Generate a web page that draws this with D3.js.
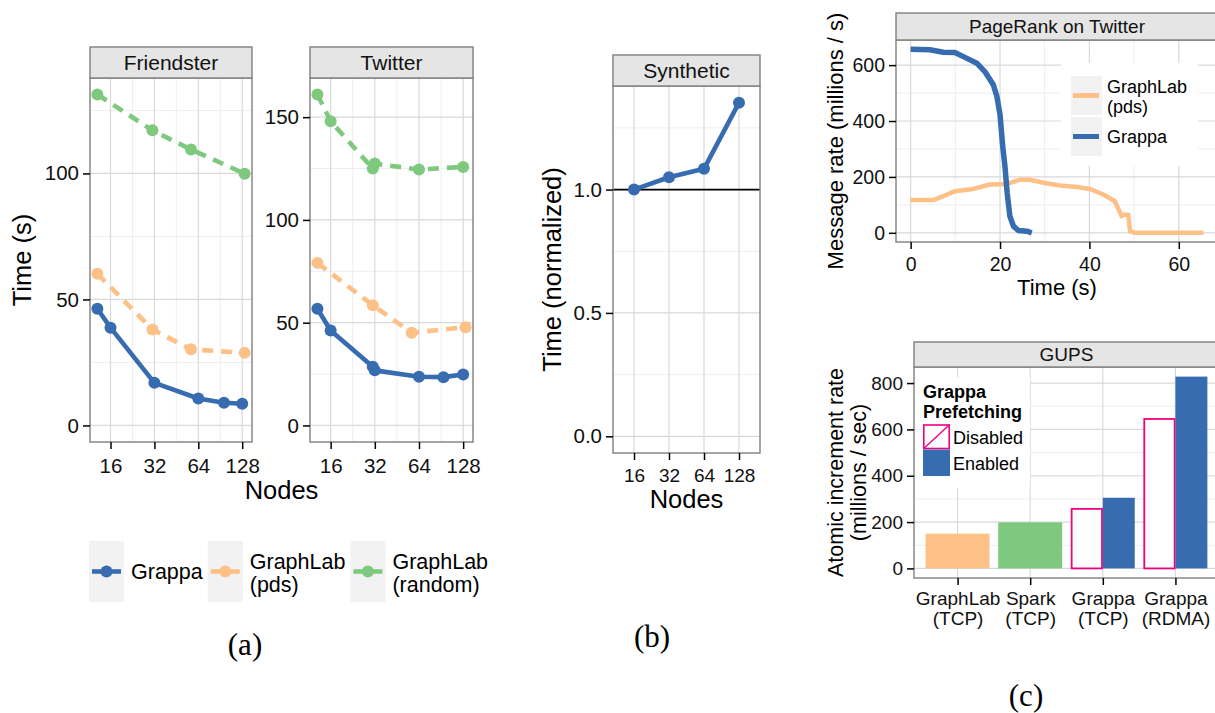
<!DOCTYPE html>
<html>
<head>
<meta charset="utf-8">
<script src="https://cdn.jsdelivr.net/npm/d3@7"></script>
<style>
    body { margin: 0; background: #fff; }
    svg { display: block; }
</style>
</head>
<body>
<div id="chart"></div>
<script>
//Colores (paleta Accent de ColorBrewer)
const COLOR_GRAPPA = '#386cb0',
    COLOR_PDS = '#fdc086',
    COLOR_RANDOM = '#7fc97f',
    COLOR_DISABLED = '#f0027f';
const GRID_MAJOR = '#d9d9d9',
    GRID_MINOR = '#eeeeee',
    BORDER = '#7f7f7f',
    STRIP = '#e5e5e5',
    KEY_BG = '#f2f2f2';
const FONT = "'Liberation Sans', Arial, Helvetica, sans-serif";
const SERIF = "'Liberation Serif', 'Times New Roman', serif";

//Datos (a) - Friendster
const friendsterGrappaNodes = [13, 16, 32, 64, 96, 128];
const friendsterGrappaTime = [46.3, 38.8, 16.9, 10.7, 9.0, 8.6];
const friendsterPdsNodes = [13, 31, 57, 133];
const friendsterPdsTime = [60.2, 38.1, 30.2, 28.8];
const friendsterRandomNodes = [13, 31, 57, 133];
const friendsterRandomTime = [131.3, 117.1, 109.5, 99.9];

//Datos (a) - Twitter
const twitterGrappaNodes = [13, 16, 31, 32, 64, 94, 128];
const twitterGrappaTime = [56.8, 46.2, 28.6, 26.8, 23.7, 23.5, 24.8];
const twitterPdsNodes = [13, 31, 57, 133];
const twitterPdsTime = [79.1, 58.5, 45.1, 47.8];
const twitterRandomNodes = [13, 16, 31, 32, 64, 128];
const twitterRandomTime = [161, 148, 125, 127.4, 124.5, 125.8];

//Datos (b) - Synthetic
const syntheticNodes = ['16', '32', '64', '128'];
const syntheticTime = [1.0, 1.05, 1.084, 1.352];

//Datos (c) - PageRank on Twitter
const pagerankGrappaTime = [0, 4.3, 7.3, 9.9, 12.5, 14.8, 16.6, 18.5, 19.3, 20, 20.6, 21.1, 21.6, 22.2, 23, 24.1, 26, 27.1];
const pagerankGrappaRate = [657, 655, 646, 645, 625, 607, 577, 530, 488, 423, 310, 238, 143, 60, 24, 8, 6, 0];
const pagerankPdsTime = [0, 5.1, 7.3, 9.9, 14, 17.8, 21.5, 24.5, 26.7, 29.7, 33.4, 37.2, 40.1, 43.1, 45.7, 47.2, 47.9, 48.7, 49.1, 50.2, 65.5];
const pagerankPdsRate = [117, 117, 131, 149, 157, 173, 175, 190, 190, 179, 169, 164, 157, 137, 113, 60, 65, 65, 6, 0, 0];

//Datos (c) - GUPS
const gupsSystems = ['GraphLab (TCP)', 'Spark (TCP)', 'Grappa (TCP)', 'Grappa (RDMA)'];
const gupsLabels = [['GraphLab', '(TCP)'], ['Spark', '(TCP)'], ['Grappa', '(TCP)'], ['Grappa', '(RDMA)']];
const gupsSingle = [150, 199, null, null];
const gupsPrefetchOff = [null, null, 257, 645];
const gupsPrefetchOn = [null, null, 305, 828];

//Ticks
const nodeTicks = [16, 32, 64, 128];
const friendsterTicks = [0, 50, 100];
const twitterTicks = [0, 50, 100, 150];
const syntheticTicks = [0, 0.5, 1.0];
const pagerankXTicks = [0, 20, 40, 60];
const pagerankYTicks = [0, 200, 400, 600];
const gupsTicks = [0, 200, 400, 600, 800];

const TICK = 7;

let svg = d3.select('#chart')
    .append('svg')
    .attr('width', 1215)
    .attr('height', 713)
    .attr('font-family', FONT);

svg.append('rect').attr('width', 1215).attr('height', 713).attr('fill', '#fff');

//Expansión tipo ggplot (5% por lado, incluyendo el cero)
function expandLinear(maxValue) {
    let r = maxValue;
    return [-0.05 * r, maxValue + 0.05 * r];
}

function midpoints(ticks, geometric) {
    let out = [];
    for (let i = 0; i < ticks.length - 1; i++) {
        out.push(geometric ? Math.sqrt(ticks[i] * ticks[i + 1]) : (ticks[i] + ticks[i + 1]) / 2);
    }
    return out;
}

function drawPanel(p) {
    let g = svg.append('g').attr('class', 'panel');

    g.append('rect')
        .attr('x', p.x0).attr('y', p.top)
        .attr('width', p.x1 - p.x0).attr('height', p.bottom - p.top)
        .attr('fill', '#fff');

    //Rejilla menor
    g.selectAll('.vminor').data(p.xMinor || []).enter().append('line')
        .attr('x1', d => p.x(d)).attr('x2', d => p.x(d))
        .attr('y1', p.top).attr('y2', p.bottom)
        .attr('stroke', GRID_MINOR).attr('stroke-width', 1);
    g.selectAll('.hminor').data(p.yMinor || []).enter().append('line')
        .attr('x1', p.x0).attr('x2', p.x1)
        .attr('y1', d => p.y(d)).attr('y2', d => p.y(d))
        .attr('stroke', GRID_MINOR).attr('stroke-width', 1);

    //Rejilla mayor
    g.selectAll('.vmajor').data(p.xTicks).enter().append('line')
        .attr('x1', d => p.x(d)).attr('x2', d => p.x(d))
        .attr('y1', p.top).attr('y2', p.bottom)
        .attr('stroke', GRID_MAJOR).attr('stroke-width', 1.2);
    g.selectAll('.hmajor').data(p.yTicks).enter().append('line')
        .attr('x1', p.x0).attr('x2', p.x1)
        .attr('y1', d => p.y(d)).attr('y2', d => p.y(d))
        .attr('stroke', GRID_MAJOR).attr('stroke-width', 1.2);

    return g;
}

function finishPanel(p) {
    //Borde del panel
    svg.append('rect')
        .attr('x', p.x0).attr('y', p.top)
        .attr('width', p.x1 - p.x0).attr('height', p.bottom - p.top)
        .attr('fill', 'none').attr('stroke', BORDER).attr('stroke-width', 1.4);

    //Strip con el título
    svg.append('rect')
        .attr('x', p.x0).attr('y', p.stripTop)
        .attr('width', p.x1 - p.x0).attr('height', p.top - p.stripTop)
        .attr('fill', STRIP).attr('stroke', BORDER).attr('stroke-width', 1.4);
    svg.append('text')
        .attr('x', (p.x0 + p.x1) / 2)
        .attr('y', (p.stripTop + p.top) / 2 + p.stripSize * 0.36)
        .attr('text-anchor', 'middle')
        .attr('font-size', p.stripSize)
        .attr('fill', '#111')
        .text(p.title);

    //Eje y
    svg.append('g')
        .attr('transform', 'translate(' + p.x0 + ',0)')
        .call(d3.axisLeft(p.y).tickValues(p.yTicks).tickFormat(p.yFormat || d3.format('d')).tickSize(TICK).tickPadding(4))
        .attr('font-family', FONT)
        .attr('font-size', p.tickSize)
        .call(g => g.select('.domain').remove())
        .call(g => g.selectAll('.tick line').attr('stroke', '#000').attr('stroke-width', 1.5))
        .call(g => g.selectAll('.tick text').attr('fill', '#111'));

    //Eje x
    let xAxis = svg.append('g')
        .attr('transform', 'translate(0,' + p.bottom + ')')
        .call(d3.axisBottom(p.x).tickValues(p.xTicks).tickFormat(p.xFormat || d3.format('d')).tickSize(TICK).tickPadding(p.xPadding || 9))
        .attr('font-family', FONT)
        .attr('font-size', p.xTickSize || p.tickSize)
        .call(g => g.select('.domain').remove())
        .call(g => g.selectAll('.tick line').attr('stroke', '#000').attr('stroke-width', 1.5))
        .call(g => g.selectAll('.tick text').attr('fill', '#111'));

    if (p.xLines) {
        xAxis.selectAll('.tick text').each(function(d, i) {
            let t = d3.select(this).attr('dy', null).text(null);
            p.xLines(d, i).forEach(function(l, j) {
                t.append('tspan').attr('x', 0).attr('dy', j ? '1.03em' : '0.71em').text(l);
            });
        });
    }
}

function drawLines(g, p, series) {
    series.forEach(function(s) {
        let data = s.nodes.map((n, i) => ({n: n, v: s.values[i]}));
        g.append('path')
            .datum(data)
            .attr('d', d3.line().x(d => p.x(d.n)).y(d => p.y(d.v)))
            .attr('fill', 'none')
            .attr('stroke', s.color)
            .attr('stroke-width', 4.6)
            .attr('stroke-linejoin', 'round')
            .attr('stroke-dasharray', s.dashed ? '11,8' : null);
    });
    series.forEach(function(s) {
        let data = s.nodes.map((n, i) => ({n: n, v: s.values[i]}));
        g.selectAll(null).data(data).enter().append('circle')
            .attr('cx', d => p.x(d.n))
            .attr('cy', d => p.y(d.v))
            .attr('r', 6)
            .attr('fill', s.color);
    });
}

function axisTitle(x, y, text, size, rotate) {
    svg.append('text')
        .attr('transform', 'translate(' + x + ',' + y + ')' + (rotate ? ' rotate(-90)' : ''))
        .attr('text-anchor', 'middle')
        .attr('font-size', size)
        .attr('fill', '#000')
        .text(text);
}

//////
///// (a) Friendster / Twitter
//////
let allNodes = [].concat(friendsterGrappaNodes, friendsterPdsNodes, twitterGrappaNodes, twitterPdsNodes, twitterRandomNodes);
let logExt = d3.extent(allNodes).map(Math.log2);
let logPad = (logExt[1] - logExt[0]) * 0.05;
let nodeDomain = [Math.pow(2, logExt[0] - logPad), Math.pow(2, logExt[1] + logPad)];

let friendster = {
    title: 'Friendster', x0: 90, x1: 252, stripTop: 47, top: 78, bottom: 442,
    stripSize: 21, tickSize: 20.5,
    xTicks: nodeTicks, xMinor: midpoints(nodeTicks, true),
    yTicks: friendsterTicks, yMinor: [25, 75, 125]
};
friendster.x = d3.scaleLog().base(2).domain(nodeDomain).range([friendster.x0, friendster.x1]);
friendster.y = d3.scaleLinear().domain(expandLinear(d3.max(friendsterRandomTime))).range([friendster.bottom, friendster.top]);

let twitter = Object.assign({}, friendster, {
    title: 'Twitter', x0: 310, x1: 473,
    yTicks: twitterTicks, yMinor: [25, 75, 125]
});
twitter.x = d3.scaleLog().base(2).domain(nodeDomain).range([twitter.x0, twitter.x1]);
twitter.y = d3.scaleLinear().domain(expandLinear(d3.max(twitterRandomTime))).range([twitter.bottom, twitter.top]);

let gF = drawPanel(friendster);
drawLines(gF, friendster, [
    {nodes: friendsterGrappaNodes, values: friendsterGrappaTime, color: COLOR_GRAPPA},
    {nodes: friendsterPdsNodes, values: friendsterPdsTime, color: COLOR_PDS, dashed: true},
    {nodes: friendsterRandomNodes, values: friendsterRandomTime, color: COLOR_RANDOM, dashed: true}
]);
finishPanel(friendster);

let gT = drawPanel(twitter);
drawLines(gT, twitter, [
    {nodes: twitterGrappaNodes, values: twitterGrappaTime, color: COLOR_GRAPPA},
    {nodes: twitterPdsNodes, values: twitterPdsTime, color: COLOR_PDS, dashed: true},
    {nodes: twitterRandomNodes, values: twitterRandomTime, color: COLOR_RANDOM, dashed: true}
]);
finishPanel(twitter);

axisTitle(31, (friendster.top + friendster.bottom) / 2, 'Time (s)', 25.5, true);
axisTitle((friendster.x0 + twitter.x1) / 2, 499, 'Nodes', 25.5);

//Leyenda (a)
let legendA = [
    {color: COLOR_GRAPPA, lines: ['Grappa']},
    {color: COLOR_PDS, lines: ['GraphLab', '(pds)']},
    {color: COLOR_RANDOM, lines: ['GraphLab', '(random)']}
];
let lx = 89;
legendA.forEach(function(item) {
    let key = svg.append('g');
    key.append('rect').attr('x', lx).attr('y', 541).attr('width', 35).attr('height', 61).attr('fill', KEY_BG);
    key.append('line').attr('x1', lx + 3).attr('x2', lx + 32).attr('y1', 571.5).attr('y2', 571.5)
        .attr('stroke', item.color).attr('stroke-width', 4.6);
    key.append('circle').attr('cx', lx + 17.5).attr('cy', 571.5).attr('r', 6).attr('fill', item.color);
    let t = key.append('text').attr('font-size', 21.5).attr('fill', '#000');
    let y0 = item.lines.length === 1 ? 579.2 : 569;
    item.lines.forEach(function(l, j) {
        t.append('tspan').attr('x', lx + 42).attr('y', y0 + j * 23).text(l);
    });
    lx += 42 + t.node().getBBox().width + 5;
});

svg.append('text').attr('x', 245).attr('y', 655).attr('text-anchor', 'middle')
    .attr('font-family', SERIF).attr('font-size', 31).text('(a)');

//////
///// (b) Synthetic
//////
let synthetic = {
    title: 'Synthetic', x0: 613, x1: 760, stripTop: 55, top: 86, bottom: 453,
    stripSize: 21, tickSize: 20.5, xTickSize: 19,
    xTicks: syntheticNodes, xFormat: d => d,
    yTicks: syntheticTicks, yMinor: [0.25, 0.75, 1.25], yFormat: d3.format('.1f')
};
synthetic.x = d3.scalePoint().domain(syntheticNodes).range([synthetic.x0, synthetic.x1]).padding(0.6);
synthetic.y = d3.scaleLinear().domain(expandLinear(d3.max(syntheticTime))).range([synthetic.bottom, synthetic.top]);

let gS = drawPanel(synthetic);
gS.append('line')
    .attr('x1', synthetic.x0).attr('x2', synthetic.x1)
    .attr('y1', synthetic.y(1)).attr('y2', synthetic.y(1))
    .attr('stroke', '#000').attr('stroke-width', 1.8);
drawLines(gS, synthetic, [
    {nodes: syntheticNodes, values: syntheticTime, color: COLOR_GRAPPA}
]);
finishPanel(synthetic);

axisTitle(561, (synthetic.top + synthetic.bottom) / 2, 'Time (normalized)', 25.5, true);
axisTitle((synthetic.x0 + synthetic.x1) / 2, 508, 'Nodes', 25.5);

svg.append('text').attr('x', 652).attr('y', 647).attr('text-anchor', 'middle')
    .attr('font-family', SERIF).attr('font-size', 31).text('(b)');

//////
///// (c) PageRank on Twitter
//////
let pagerank = {
    title: 'PageRank on Twitter', x0: 896, x1: 1218, stripTop: 13, top: 40, bottom: 242,
    stripSize: 19, tickSize: 19.5, xPadding: 8,
    xTicks: pagerankXTicks, xMinor: [10, 30, 50],
    yTicks: pagerankYTicks, yMinor: [100, 300, 500]
};
pagerank.x = d3.scaleLinear().domain([-0.05 * d3.max(pagerankPdsTime), 1.05 * d3.max(pagerankPdsTime)]).range([pagerank.x0, pagerank.x1]);
pagerank.y = d3.scaleLinear().domain(expandLinear(d3.max(pagerankGrappaRate))).range([pagerank.bottom, pagerank.top]);

let gP = drawPanel(pagerank);
let rateLine = d3.line().x(d => pagerank.x(d.t)).y(d => pagerank.y(d.v));
gP.append('path')
    .datum(pagerankPdsTime.map((t, i) => ({t: t, v: pagerankPdsRate[i]})))
    .attr('d', rateLine)
    .attr('fill', 'none').attr('stroke', COLOR_PDS).attr('stroke-width', 4.5).attr('stroke-linejoin', 'round');
gP.append('path')
    .datum(pagerankGrappaTime.map((t, i) => ({t: t, v: pagerankGrappaRate[i]})))
    .attr('d', rateLine)
    .attr('fill', 'none').attr('stroke', COLOR_GRAPPA).attr('stroke-width', 5.5).attr('stroke-linejoin', 'round');

//Leyenda dentro del panel
let legP = svg.append('g');
legP.append('rect').attr('x', 1061).attr('y', 63).attr('width', 137).attr('height', 103).attr('fill', '#fff');
[{color: COLOR_PDS, lines: ['GraphLab', '(pds)'], y: 76, base: 93},
 {color: COLOR_GRAPPA, lines: ['Grappa'], y: 117, base: 143}].forEach(function(item) {
    legP.append('rect').attr('x', 1071).attr('y', item.y).attr('width', 31).attr('height', 39).attr('fill', KEY_BG);
    legP.append('line').attr('x1', 1073).attr('x2', 1099).attr('y1', item.y + 19.5).attr('y2', item.y + 19.5)
        .attr('stroke', item.color).attr('stroke-width', 5);
    let t = legP.append('text').attr('font-size', 18).attr('fill', '#000');
    item.lines.forEach(function(l, j) {
        t.append('tspan').attr('x', 1107).attr('y', item.base + j * 20).text(l);
    });
});
finishPanel(pagerank);

axisTitle(843, (pagerank.top + pagerank.bottom) / 2, 'Message rate (millions / s)', 22, true);
axisTitle((pagerank.x0 + pagerank.x1) / 2, 295, 'Time (s)', 22);

//////
///// (c) GUPS
//////
let gups = {
    title: 'GUPS', x0: 914, x1: 1219, stripTop: 342, top: 367, bottom: 578,
    stripSize: 19, tickSize: 19, xPadding: 7,
    xTicks: gupsSystems, xFormat: d => d,
    xLines: (d, i) => gupsLabels[i],
    yTicks: gupsTicks, yMinor: [100, 300, 500, 700]
};
gups.x = d3.scalePoint().domain(gupsSystems).range([gups.x0, gups.x1]).padding(0.6);
gups.y = d3.scaleLinear().domain(expandLinear(d3.max(gupsPrefetchOn))).range([gups.bottom, gups.top]);

let gG = drawPanel(gups);
let barW = gups.x.step() * 0.88;
let dodge = d3.scaleBand().domain(['off', 'on']).range([-barW / 2, barW / 2]);
let singleColors = [COLOR_PDS, COLOR_RANDOM];

gupsSystems.forEach(function(sys, i) {
    if (gupsSingle[i] != null) {
        gG.append('rect')
            .attr('x', gups.x(sys) - barW / 2).attr('width', barW)
            .attr('y', gups.y(gupsSingle[i])).attr('height', gups.y(0) - gups.y(gupsSingle[i]))
            .attr('fill', singleColors[i]);
    }
    if (gupsPrefetchOff[i] != null) {
        gG.append('rect')
            .attr('x', gups.x(sys) + dodge('off') + 0.8).attr('width', dodge.bandwidth() - 1.6)
            .attr('y', gups.y(gupsPrefetchOff[i])).attr('height', gups.y(0) - gups.y(gupsPrefetchOff[i]))
            .attr('fill', '#fff').attr('stroke', COLOR_DISABLED).attr('stroke-width', 1.8);
        gG.append('rect')
            .attr('x', gups.x(sys) + dodge('on')).attr('width', dodge.bandwidth())
            .attr('y', gups.y(gupsPrefetchOn[i])).attr('height', gups.y(0) - gups.y(gupsPrefetchOn[i]))
            .attr('fill', COLOR_GRAPPA);
    }
});

//Leyenda GUPS
let legG = svg.append('g');
legG.append('rect').attr('x', 916).attr('y', 377).attr('width', 114).attr('height', 111).attr('fill', '#fff');
legG.append('text').attr('font-size', 18).attr('font-weight', 'bold')
    .call(t => t.append('tspan').attr('x', 923).attr('y', 398).text('Grappa'))
    .call(t => t.append('tspan').attr('x', 923).attr('y', 418).text('Prefetching'));
legG.append('rect').attr('x', 923.8).attr('y', 425).attr('width', 25.4).attr('height', 23.5)
    .attr('fill', '#fff').attr('stroke', COLOR_DISABLED).attr('stroke-width', 1.6);
legG.append('line').attr('x1', 923.8).attr('y1', 448.5).attr('x2', 949.2).attr('y2', 425)
    .attr('stroke', COLOR_DISABLED).attr('stroke-width', 1.4);
legG.append('rect').attr('x', 923).attr('y', 449.5).attr('width', 27).attr('height', 26.5).attr('fill', COLOR_GRAPPA);
legG.append('text').attr('x', 953).attr('y', 444).attr('font-size', 18).text('Disabled');
legG.append('text').attr('x', 953).attr('y', 469.5).attr('font-size', 18).text('Enabled');

finishPanel(gups);

svg.append('text')
    .attr('transform', 'translate(843,' + (gups.top + gups.bottom) / 2 + ') rotate(-90)')
    .attr('text-anchor', 'middle').attr('font-size', 21.5)
    .call(t => t.append('tspan').attr('x', 0).attr('y', 0).text('Atomic increment rate'))
    .call(t => t.append('tspan').attr('x', 0).attr('y', 23).text('(millions / sec)'));

svg.append('text').attr('x', 1026).attr('y', 706).attr('text-anchor', 'middle')
    .attr('font-family', SERIF).attr('font-size', 31).text('(c)');
</script>
</body>
</html>
